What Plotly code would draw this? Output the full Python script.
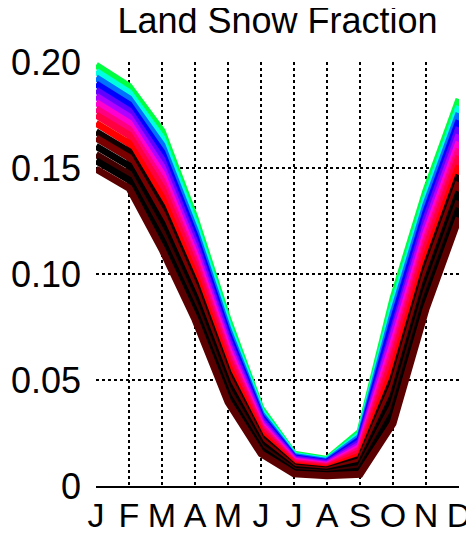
import plotly.graph_objects as go

months = ["Jan", "Feb", "Mar", "Apr", "May", "Jun", "Jul", "Aug", "Sep", "Oct", "Nov", "Dec"]
month_letters = ["J", "F", "M", "A", "M", "J", "J", "A", "S", "O", "N", "D"]
y_tickvals = [0, 0.05, 0.10, 0.15, 0.20]
y_ticktext = ["0", "0.05", "0.10", "0.15", "0.20"]

# ensemble members, listed from lowest (dark) to highest (green)
member_colors = [
    "#5a0000", "#000000", "#400000", "#000000", "#7a0000", "#100000",
    "#ff0000", "#ff0040", "#ff0080", "#ff00d0", "#b000ff", "#6000ff",
    "#0000ff", "#0070ff", "#00ffe0", "#00ff40",
]
m00 = [0.1495, 0.1405, 0.1115, 0.0785, 0.0395, 0.0152, 0.0057, 0.0048, 0.0055, 0.0295, 0.0835, 0.1265]
m01 = [0.1534, 0.1443, 0.1160, 0.0823, 0.0426, 0.0169, 0.0064, 0.0054, 0.0071, 0.0342, 0.0880, 0.1310]
m02 = [0.1564, 0.1472, 0.1193, 0.0852, 0.0450, 0.0182, 0.0070, 0.0059, 0.0083, 0.0378, 0.0913, 0.1343]
m03 = [0.1603, 0.1511, 0.1238, 0.0891, 0.0481, 0.0199, 0.0078, 0.0065, 0.0099, 0.0425, 0.0958, 0.1388]
m04 = [0.1642, 0.1549, 0.1283, 0.0929, 0.0512, 0.0216, 0.0085, 0.0071, 0.0115, 0.0472, 0.1003, 0.1433]
m05 = [0.1671, 0.1578, 0.1317, 0.0958, 0.0535, 0.0229, 0.0091, 0.0076, 0.0127, 0.0507, 0.1037, 0.1467]
m06 = [0.1711, 0.1616, 0.1361, 0.0996, 0.0567, 0.0246, 0.0098, 0.0082, 0.0143, 0.0555, 0.1081, 0.1511]
m07 = [0.1750, 0.1655, 0.1406, 0.1035, 0.0598, 0.0263, 0.0105, 0.0088, 0.0159, 0.0602, 0.1126, 0.1556]
m08 = [0.1779, 0.1683, 0.1440, 0.1063, 0.0621, 0.0276, 0.0111, 0.0093, 0.0171, 0.0637, 0.1160, 0.1590]
m09 = [0.1809, 0.1712, 0.1473, 0.1092, 0.0645, 0.0288, 0.0117, 0.0097, 0.0183, 0.0673, 0.1193, 0.1623]
m10 = [0.1838, 0.1741, 0.1507, 0.1121, 0.0668, 0.0301, 0.0122, 0.0102, 0.0195, 0.0708, 0.1227, 0.1657]
m11 = [0.1867, 0.1770, 0.1541, 0.1150, 0.0691, 0.0314, 0.0128, 0.0107, 0.0207, 0.0743, 0.1261, 0.1691]
m12 = [0.1897, 0.1799, 0.1574, 0.1179, 0.0715, 0.0327, 0.0133, 0.0111, 0.0219, 0.0779, 0.1294, 0.1724]
m13 = [0.1926, 0.1827, 0.1608, 0.1207, 0.0738, 0.0339, 0.0139, 0.0116, 0.0231, 0.0814, 0.1328, 0.1758]
m14 = [0.1956, 0.1856, 0.1641, 0.1236, 0.0762, 0.0352, 0.0144, 0.0120, 0.0243, 0.0850, 0.1361, 0.1791]
m15 = [0.1985, 0.1885, 0.1675, 0.1265, 0.0785, 0.0365, 0.0150, 0.0125, 0.0255, 0.0885, 0.1395, 0.1825]

members = [m00, m01, m02, m03, m04, m05, m06, m07, m08, m09, m10, m11, m12, m13, m14, m15]

fig = go.Figure()
# draw highest (green) first so the darker members sit on top
for vals, col in reversed(list(zip(members, member_colors))):
    fig.add_trace(go.Scatter(
        x=months, y=vals, mode="lines",
        line=dict(color=col, width=7),
        showlegend=False, hoverinfo="skip",
    ))

# the page body adds an 8px offset; size the figure to fit inside the window
W, H = 466, 526
font_family = "Liberation Sans, Arial, Helvetica, sans-serif"
fig.update_layout(
    width=W, height=H,
    margin=dict(l=88, r=15, t=54, b=48, autoexpand=False),
    paper_bgcolor="white", plot_bgcolor="white",
    font=dict(family=font_family, color="black", size=36),
    title=dict(text="Land Snow Fraction", x=0.5, xref="paper", xanchor="center",
               y=1, yref="container", yanchor="top", pad=dict(t=0, b=0),
               font=dict(size=36, family=font_family, color="black")),
)
fig.update_xaxes(
    type="category", categoryorder="array", categoryarray=months,
    range=[0, 11], tickvals=months, ticktext=month_letters,
    showgrid=True, gridcolor="black", griddash="dot", gridwidth=2,
    showline=True, linecolor="black", linewidth=2, mirror=False,
    ticks="", tickfont=dict(size=34), zeroline=False, automargin=False,
    ticklabelstandoff=-2,
)
fig.update_yaxes(
    range=[0, 0.2], tickvals=y_tickvals, ticktext=y_ticktext,
    showgrid=True, gridcolor="black", griddash="dot", gridwidth=2,
    showline=False, ticks="", tickfont=dict(size=36), zeroline=False,
    automargin=False, ticklabelstandoff=14,
)
fig.write_html("out.html")
